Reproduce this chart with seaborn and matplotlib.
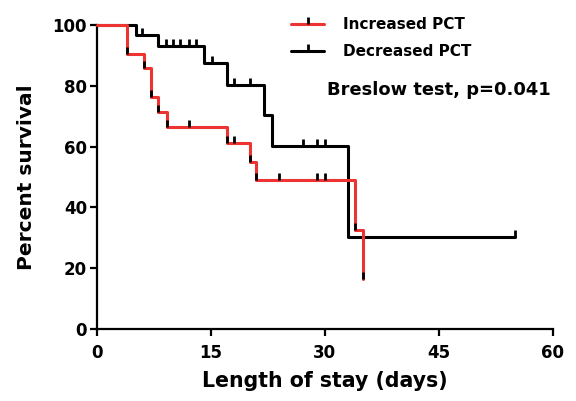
import numpy as np
import pandas as pd
import matplotlib
matplotlib.use("Agg")
import matplotlib.pyplot as plt
import seaborn as sns
from matplotlib.lines import Line2D

# Kaplan-Meier steps
inc_time = [0, 4, 6.2, 7.1, 8.1, 9.2, 17.1, 20.1, 21.0, 34.0, 35.0]
inc_surv = [100, 90.5, 85.7, 76.2, 71.4, 66.6, 61.1, 55.0, 48.9, 32.6, 16.3]
dec_time = [0, 5.1, 8.1, 14.1, 17.1, 22.0, 23.1, 33.1, 55.0]
dec_surv = [100, 96.6, 93.0, 87.4, 80.3, 70.4, 60.3, 30.1, 30.1]

# censored ticks
inc_cens_t = [4, 6.2, 7.1, 8.1, 9.2, 12.1, 17.1, 18.1, 20.1, 21.0, 24.0, 29.0, 30.0, 34.0, 35.0]
inc_cens_s = [90.5, 85.7, 76.2, 71.4, 66.6, 66.6, 61.1, 61.1, 55.0, 48.9, 48.9, 48.9, 48.9, 32.6, 16.3]
dec_cens_t = [6.0, 9.1, 10.0, 11.0, 12.1, 13.1, 15.1, 18.1, 20.1, 27.1, 29.0, 30.0, 55.0]
dec_cens_s = [96.6, 93.0, 93.0, 93.0, 93.0, 93.0, 87.4, 80.3, 80.3, 60.3, 60.3, 60.3, 30.1]

groups = ["Increased PCT", "Decreased PCT"]
colors = {"Increased PCT": "#EE3333", "Decreased PCT": "black"}

df = pd.concat([
    pd.DataFrame({"time": dec_time, "surv": dec_surv, "group": groups[1]}),
    pd.DataFrame({"time": inc_time, "surv": inc_surv, "group": groups[0]}),
])

sns.set_style("ticks")
plt.rcParams["font.family"] = ["DejaVu Sans"]
plt.rcParams["font.weight"] = "bold"
for k in ["text.color", "axes.labelcolor", "xtick.color", "ytick.color", "axes.edgecolor"]:
    plt.rcParams[k] = "black"

fig = plt.figure(figsize=(5.76, 4.01), dpi=100)
ax = fig.add_axes([0.168, 0.1796, 0.792, 0.758])

for g in [groups[1], groups[0]]:
    sub = df[df["group"] == g]
    sns.lineplot(data=sub, x="time", y="surv", color=colors[g], drawstyle="steps-post",
                 estimator=None, sort=False, linewidth=2.2, ax=ax, clip_on=False,
                 zorder=3 if g == groups[0] else 2)

ax.plot(dec_cens_t, dec_cens_s, ls="none", marker=2, color="black", markersize=5,
        markeredgewidth=2, clip_on=False, zorder=4)
ax.plot(inc_cens_t, inc_cens_s, ls="none", marker=2, color="black", markersize=5,
        markeredgewidth=2, clip_on=False, zorder=4)

ax.set_xlim(0, 60)
ax.set_ylim(0, 100)
ax.set_xticks([0, 15, 30, 45, 60])
ax.set_yticks([0, 20, 40, 60, 80, 100])
ax.tick_params(axis="both", labelsize=12, width=1.6, length=5)
ax.tick_params(axis="x", pad=6)
ax.tick_params(axis="y", pad=2)
for lab in ax.get_xticklabels() + ax.get_yticklabels():
    lab.set_fontweight("bold")
sns.despine(ax=ax)
for s in ["left", "bottom"]:
    ax.spines[s].set_linewidth(1.6)

ax.set_xlabel("Length of stay (days)", fontsize=14.8, fontweight="bold", labelpad=6)
ax.set_ylabel("Percent survival", fontsize=14.5, fontweight="bold", labelpad=12)

handles = [
    (Line2D([], [], color=colors[g], lw=2.2),
     Line2D([], [], ls="none", marker=2, color="black", markersize=5, markeredgewidth=2))
    for g in groups
]
ax.legend(handles, groups, loc="upper left", bbox_to_anchor=(0.395, 1.07), frameon=False,
          fontsize=11, handlelength=2.2, handletextpad=1.2, labelspacing=0.75)

ax.text(0.996, 0.785, "Breslow test, p=0.041", transform=ax.transAxes, ha="right",
        va="center", fontsize=12.9, fontweight="bold")

fig.savefig("out.png", dpi=100)
